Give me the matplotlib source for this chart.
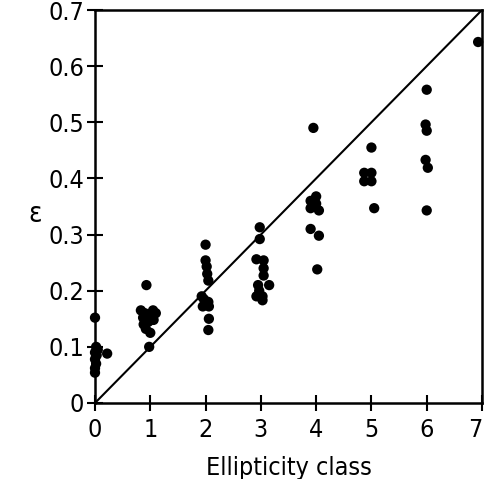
import matplotlib
matplotlib.use("Agg")
import matplotlib.pyplot as plt

# Data
class0_x = [0.0, 0.02, 0.05, 0.0, 0.03, 0.0, 0.02, 0.0, 0.0, 0.22]
class0_y = [0.152, 0.10, 0.095, 0.09, 0.085, 0.078, 0.07, 0.062, 0.054, 0.088]
class1_x = [0.93, 0.83, 0.9, 1.05, 1.1, 0.87, 0.95, 1.02, 0.88, 0.97, 1.06, 0.92, 1.0, 0.98]
class1_y = [0.21, 0.165, 0.16, 0.165, 0.16, 0.152, 0.15, 0.155, 0.14, 0.145, 0.148, 0.132, 0.125, 0.10]
class2_x = [2.0, 2.0, 2.02, 2.03, 2.05, 1.93, 1.97, 2.05, 1.95, 2.06, 2.06, 2.05]
class2_y = [0.282, 0.254, 0.243, 0.23, 0.218, 0.19, 0.185, 0.18, 0.172, 0.172, 0.15, 0.13]
class3_x = [2.98, 2.98, 2.92, 3.05, 3.05, 3.05, 2.95, 3.15, 2.97, 2.92, 3.03, 3.03]
class3_y = [0.313, 0.292, 0.256, 0.254, 0.24, 0.227, 0.21, 0.21, 0.2, 0.19, 0.19, 0.183]
class4_x = [3.95, 4.0, 3.9, 4.0, 3.9, 4.05, 3.9, 4.05, 4.02]
class4_y = [0.49, 0.368, 0.36, 0.355, 0.347, 0.343, 0.31, 0.298, 0.238]
class5_x = [5.0, 4.87, 5.0, 4.87, 5.0, 5.05]
class5_y = [0.455, 0.41, 0.41, 0.395, 0.395, 0.347]
class6_x = [6.0, 5.98, 6.0, 5.98, 6.02, 6.0]
class6_y = [0.558, 0.496, 0.485, 0.433, 0.419, 0.343]
class7_x = [6.93]
class7_y = [0.643]

line_x = [0, 7]
line_y = [0, 0.7]

xticks = [0, 1, 2, 3, 4, 5, 6, 7]
yticks = [0, 0.1, 0.2, 0.3, 0.4, 0.5, 0.6, 0.7]
ytick_labels = ["0", "0.1", "0.2", "0.3", "0.4", "0.5", "0.6", "0.7"]

plt.rcParams['font.family'] = ['DejaVu Sans']
plt.rcParams['font.stretch'] = 'condensed'

fig = plt.figure(figsize=(4.87, 4.79), dpi=100)
ax = fig.add_axes([95/487, 76/479, 387/487, 393/479])

xs = class0_x + class1_x + class2_x + class3_x + class4_x + class5_x + class6_x + class7_x
ys = class0_y + class1_y + class2_y + class3_y + class4_y + class5_y + class6_y + class7_y
ax.scatter(xs, ys, s=55, color='black', edgecolors='none', zorder=3, clip_on=False)
ax.plot(line_x, line_y, color='black', lw=1.5)

ax.set_xlim(0, 7)
ax.set_ylim(0, 0.7)
ax.set_xticks(xticks)
ax.set_xticklabels([str(t) for t in xticks])
ax.set_yticks(yticks)
ax.set_yticklabels(ytick_labels)
ax.tick_params(direction='inout', length=12, width=1.5, labelsize=18, pad=2)
ax.tick_params(axis='x', pad=5)
ax.get_xticklabels()[-1].set_horizontalalignment('right')
for s in ax.spines.values():
    s.set_linewidth(1.8)

ax.set_xlabel("Ellipticity class", fontsize=18, labelpad=10)
ax.set_ylabel("ε", fontsize=20, rotation=0, labelpad=20, va='center')
ax.yaxis.set_label_coords(-0.155, 0.48)

fig.savefig("out.png", dpi=100)
